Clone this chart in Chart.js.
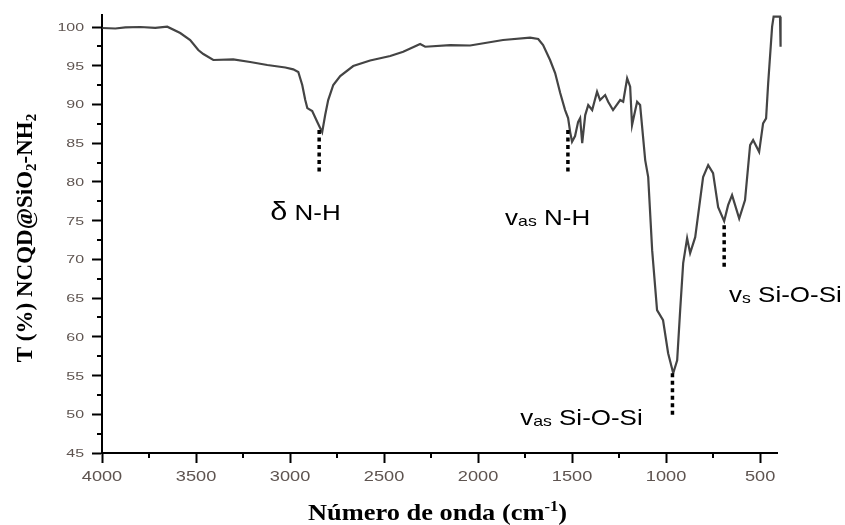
<!DOCTYPE html>
<html>
<head>
<meta charset="utf-8">
<script src="https://cdn.jsdelivr.net/npm/chart.js@4"></script>
<style>
  html, body { margin: 0; padding: 0; background: #fff; }
  #c { display: block; }
</style>
</head>
<body>
<canvas id="c" width="845" height="525"></canvas>
<script>
// FTIR spectrum of NCQD@SiO2-NH2: wavenumber (cm-1) and transmittance (%)
const wavenumbers = [
  3998, 3929, 3876, 3796, 3717, 3653, 3584, 3531, 3488, 3461,
  3408, 3302, 3212, 3121, 3025, 2983, 2956, 2935, 2919, 2908,
  2882, 2855, 2829, 2813, 2797, 2770, 2733, 2664, 2574, 2467,
  2398, 2308, 2281, 2148, 2042, 1867, 1723, 1680, 1654, 1617,
  1590, 1563, 1537, 1521, 1510, 1500, 1484, 1468, 1457, 1446,
  1430, 1414, 1393, 1367, 1351, 1324, 1308, 1282, 1244, 1228,
  1207, 1191, 1181, 1154, 1138, 1111, 1095, 1074, 1048, 1016,
  989, 962, 941, 925, 909, 888, 872, 845, 803, 776,
  750, 723, 691, 670, 649, 611, 580, 553, 537, 505,
  484, 468, 457, 436, 428, 394, 391
];
const transmittance = [
  99.87, 99.81, 99.94, 100.0, 99.9, 100.04, 99.22, 98.32, 97.03, 96.51,
  95.74, 95.83, 95.48, 95.09, 94.77, 94.53, 94.19, 92.51, 90.57, 89.53,
  89.15, 87.73, 86.43, 88.63, 90.57, 92.51, 93.67, 94.96, 95.67, 96.25,
  96.81, 97.80, 97.45, 97.67, 97.61, 98.32, 98.62, 98.45, 97.67, 95.74,
  94.06, 91.47, 89.28, 88.24, 86.43, 85.18, 85.92, 87.73, 88.24, 85.01,
  88.63, 89.92, 89.28, 91.64, 90.57, 91.21, 90.35, 89.28, 90.57, 90.35,
  93.37, 92.29, 87.34, 90.35, 89.92, 82.82, 80.62, 71.19, 63.44, 62.14,
  57.88, 55.30, 56.98, 63.44, 69.51, 72.74, 70.80, 72.87, 80.62, 82.17,
  81.14, 76.74, 74.94, 77.0, 78.29, 75.28, 77.65, 84.75, 85.40, 83.89,
  87.56, 88.20, 92.73, 100.04, 101.33, 101.33, 97.45
];

// Axis ticks
const xTicks = [4000, 3500, 3000, 2500, 2000, 1500, 1000, 500];
const xMinorTicks = [3750, 3250, 2750, 2250, 1750, 1250, 750];
const yTicks = [45, 50, 55, 60, 65, 70, 75, 80, 85, 90, 95, 100];
const yMinorTicks = [47.5, 52.5, 57.5, 62.5, 67.5, 72.5, 77.5, 82.5, 87.5, 92.5, 97.5];

// Band assignments: marker position (wavenumber, top and bottom of the dotted line)
const bandLabels = [
  { parts: [['δ', 26, 0], [' N-H', 22, 0]], wn: 2845, top: 86.7, bottom: 81.1, textWn: 3105, textT: 75.06 },
  { parts: [['v', 22, 0], ['as', 15, 1], [' N-H', 22, 0]], wn: 1522, top: 86.7, bottom: 81.1, textWn: 1856, textT: 74.4 },
  { parts: [['v', 22, 0], ['as', 15, 1], [' Si-O-Si', 22, 0]], wn: 966, top: 55.3, bottom: 49.6, textWn: 1776, textT: 48.6 },
  { parts: [['v', 22, 0], ['s', 15, 1], [' Si-O-Si', 22, 0]], wn: 691, top: 74.4, bottom: 68.6, textWn: 665, textT: 64.5 }
];

const SANS = '"Liberation Sans", Arial, sans-serif';
const SERIF = '"Liberation Serif", "Times New Roman", serif';

// Draws a run of text pieces (with sub/superscripts), optionally stretched horizontally
function drawRich(ctx, segs, x, y, sx, align) {
  let total = 0;
  const measured = segs.map(s => {
    ctx.font = s.font;
    const w = ctx.measureText(s.text).width;
    total += w;
    return w;
  });
  ctx.save();
  ctx.translate(x, y);
  ctx.scale(sx, 1);
  ctx.textAlign = 'left';
  ctx.textBaseline = 'alphabetic';
  let cx = align === 'center' ? -total / 2 : (align === 'right' ? -total : 0);
  segs.forEach((s, i) => {
    ctx.font = s.font;
    ctx.fillText(s.text, cx, s.dy || 0);
    cx += measured[i];
  });
  ctx.restore();
}

const overlay = {
  id: 'overlay',
  afterDraw(chart) {
    const ctx = chart.ctx;
    const xs = chart.scales.x, ys = chart.scales.y;
    const area = chart.chartArea;

    // minor tick marks
    ctx.save();
    ctx.strokeStyle = '#000';
    ctx.lineWidth = 2;
    ctx.beginPath();
    xMinorTicks.forEach(v => {
      const px = Math.round(xs.getPixelForValue(v));
      ctx.moveTo(px, area.bottom);
      ctx.lineTo(px, area.bottom + 5);
    });
    yMinorTicks.forEach(v => {
      const py = Math.round(ys.getPixelForValue(v));
      ctx.moveTo(area.left, py);
      ctx.lineTo(area.left - 5, py);
    });
    ctx.stroke();
    ctx.restore();

    // tick labels
    ctx.save();
    ctx.fillStyle = '#5e5450';
    xTicks.forEach(v => {
      drawRich(ctx, [{ text: String(v), font: '14px ' + SANS }],
        xs.getPixelForValue(v), area.bottom + 28, 1.3, 'center');
    });
    yTicks.forEach(v => {
      drawRich(ctx, [{ text: String(v), font: '11px ' + SANS }],
        area.left - 18, ys.getPixelForValue(v) + 4, 1.45, 'right');
    });
    ctx.restore();

    // axis titles
    ctx.save();
    ctx.fillStyle = '#000';
    drawRich(ctx, [
      { text: 'Número de onda (cm', font: 'bold 24px ' + SERIF },
      { text: '-1', font: 'bold 15px ' + SERIF, dy: -9 },
      { text: ')', font: 'bold 24px ' + SERIF }
    ], (area.left + area.right) / 2 - 2, 520, 1.1, 'center');

    ctx.translate(32, (area.top + area.bottom) / 2 + 4);
    ctx.rotate(-Math.PI / 2);
    drawRich(ctx, [
      { text: 'T (%) NCQD@SiO', font: 'bold 23px ' + SERIF },
      { text: '2', font: 'bold 15px ' + SERIF, dy: 4 },
      { text: '-NH', font: 'bold 23px ' + SERIF },
      { text: '2', font: 'bold 15px ' + SERIF, dy: 4 }
    ], 0, 0, 1, 'center');
    ctx.restore();

    // band markers and labels
    ctx.save();
    bandLabels.forEach(b => {
      const px = xs.getPixelForValue(b.wn);
      ctx.strokeStyle = '#000';
      ctx.lineWidth = 3.5;
      ctx.setLineDash([4, 3.5]);
      ctx.beginPath();
      ctx.moveTo(px, ys.getPixelForValue(b.top));
      ctx.lineTo(px, ys.getPixelForValue(b.bottom));
      ctx.stroke();
      ctx.setLineDash([]);
      ctx.fillStyle = '#000';
      drawRich(ctx, b.parts.map(p => ({ text: p[0], font: p[1] + 'px ' + SANS, dy: p[2] })),
        xs.getPixelForValue(b.textWn), ys.getPixelForValue(b.textT), 1.18, 'left');
    });
    ctx.restore();
  }
};

new Chart(document.getElementById('c'), {
  type: 'line',
  data: {
    datasets: [{
      data: wavenumbers.map((w, i) => ({ x: w, y: transmittance[i] })),
      borderColor: '#444444',
      borderWidth: 2.2,
      pointRadius: 0,
      tension: 0,
      clip: false
    }]
  },
  options: {
    responsive: false,
    animation: false,
    devicePixelRatio: 1,
    layout: { padding: { left: 0, top: 15, right: 68, bottom: 0 } },
    plugins: { legend: { display: false }, tooltip: { enabled: false } },
    scales: {
      x: {
        type: 'linear',
        reverse: true,
        min: 410,
        max: 4000,
        afterBuildTicks: s => { s.ticks = xTicks.map(v => ({ value: v })); },
        afterFit: s => { s.height = 72; },
        grid: { display: true, drawOnChartArea: false, drawTicks: true, tickLength: 10, tickColor: '#000', tickWidth: 2 },
        border: { display: true, color: '#000', width: 2 },
        ticks: { display: false }
      },
      y: {
        type: 'linear',
        min: 45,
        max: 101.55,
        afterBuildTicks: s => { s.ticks = yTicks.map(v => ({ value: v })); },
        afterFit: s => { s.width = 102; },
        grid: { display: true, drawOnChartArea: false, drawTicks: true, tickLength: 10, tickColor: '#000', tickWidth: 2 },
        border: { display: true, color: '#000', width: 2 },
        ticks: { display: false }
      }
    }
  },
  plugins: [overlay]
});
</script>
</body>
</html>
